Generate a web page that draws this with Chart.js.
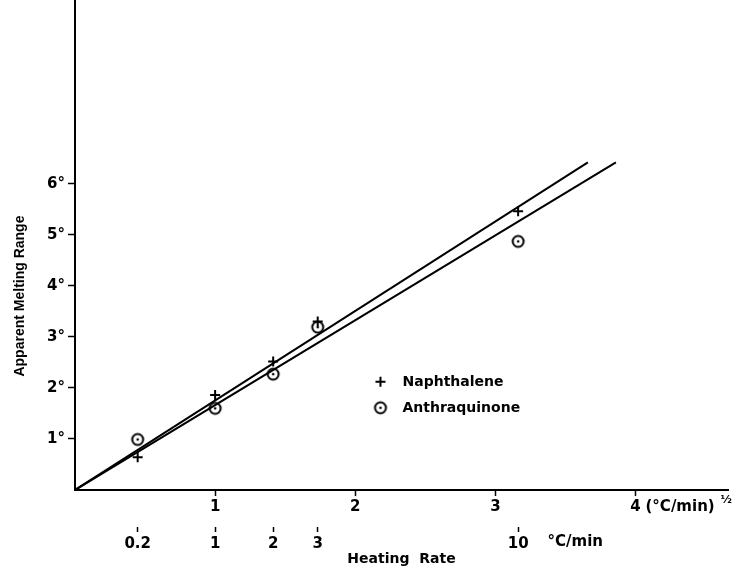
<!DOCTYPE html>
<html>
<head>
<meta charset="utf-8">
<script src="https://cdn.jsdelivr.net/npm/chart.js@4"></script>
<style>
  body { margin: 0; background: #fff; }
</style>
</head>
<body>
<canvas id="myChart" width="747" height="569"></canvas>
<script>
// heating rates in °C/min, plotted against their square root
const rates = [0.2, 1, 2, 3, 10];
const rateLabels = ['0.2', '1', '2', '3', '10'];
const naphthalene = [0.64, 1.86, 2.52, 3.30, 5.46];
const anthraquinone = [0.99, 1.60, 2.27, 3.19, 4.87];

// fitted lines, start and end points (x = sqrt rate, y = degrees)
const naphFitX = [0, 3.66];
const naphFitY = [0, 6.42];
const anthFitX = [0, 3.86];
const anthFitY = [0, 6.42];

const sqrtTicks = [1, 2, 3, 4];
const rangeTicks = [1, 2, 3, 4, 5, 6];

const FONT = '"DejaVu Sans", sans-serif';

// circle with a dot in the middle
const dotCircle = document.createElement('canvas');
dotCircle.width = 16;
dotCircle.height = 16;
const dc = dotCircle.getContext('2d');
dc.strokeStyle = '#000';
dc.lineWidth = 2;
dc.beginPath();
dc.arc(8, 8, 5.5, 0, Math.PI * 2);
dc.stroke();
dc.fillStyle = '#000';
dc.beginPath();
dc.arc(8, 8, 1.3, 0, Math.PI * 2);
dc.fill();

const toPoints = (xs, ys) => xs.map((x, i) => ({ x: x, y: ys[i] }));

// legend, axis title and unit texts
const extras = {
    id: 'extras',
    afterDraw(chart) {
        const ctx = chart.ctx;
        const x = chart.scales.x;
        const y = chart.scales.y;
        ctx.save();
        ctx.fillStyle = '#000';
        ctx.strokeStyle = '#000';

        // legend
        const lx = x.getPixelForValue(2.18);
        ctx.font = 'bold 14px ' + FONT;
        ctx.textBaseline = 'middle';
        ctx.textAlign = 'left';
        chart.data.datasets.slice(0, 2).forEach((ds, i) => {
            const ly = y.getPixelForValue(2.12) + i * 26;
            ctx.lineWidth = 2;
            Chart.helpers.drawPoint(ctx, {
                pointStyle: ds.pointStyle, radius: 5, rotation: 0, borderWidth: 2
            }, lx, ly);
            ctx.fillText(ds.label, lx + 22, ly + 1);
        });

        // y title
        ctx.save();
        ctx.translate(20, y.getPixelForValue(3.8));
        ctx.rotate(-Math.PI / 2);
        ctx.textAlign = 'center';
        ctx.font = 'bold 14px "Liberation Sans", sans-serif';
        ctx.fillText('Apparent Melting Range', 0, 0);
        ctx.restore();

        // units
        ctx.font = 'bold 15px ' + FONT;
        ctx.textAlign = 'left';
        const ux = x.getPixelForValue(4) + 10;
        ctx.fillText('(°C/min)', ux, 507);
        ctx.font = 'bold 11px ' + FONT;
        ctx.fillText('½', ux + 75, 500);
        ctx.font = 'bold 15px ' + FONT;
        ctx.textAlign = 'center';
        ctx.fillText('°C/min', x.getPixelForValue(3.57), 542);
        ctx.restore();
    }
};

const noPad = s => {
    s.paddingTop = 0;
    s.paddingBottom = 0;
    s.paddingLeft = 0;
    s.paddingRight = 0;
};

const ctx = document.getElementById('myChart').getContext('2d');
const chart = new Chart(ctx, {
    type: 'scatter',
    data: {
        datasets: [{
            label: 'Naphthalene',
            data: toPoints(rates.map(Math.sqrt), naphthalene),
            pointStyle: 'cross',
            pointRadius: 5,
            pointBorderWidth: 2,
            borderColor: '#000',
            backgroundColor: '#000'
        }, {
            label: 'Anthraquinone',
            data: toPoints(rates.map(Math.sqrt), anthraquinone),
            pointStyle: dotCircle,
            borderColor: '#000',
            backgroundColor: '#000'
        }, {
            label: 'Naphthalene fit',
            data: toPoints(naphFitX, naphFitY),
            showLine: true,
            pointRadius: 0,
            borderColor: '#000',
            borderWidth: 2
        }, {
            label: 'Anthraquinone fit',
            data: toPoints(anthFitX, anthFitY),
            showLine: true,
            pointRadius: 0,
            borderColor: '#000',
            borderWidth: 2
        }]
    },
    options: {
        responsive: false,
        animation: false,
        devicePixelRatio: 1,
        layout: { autoPadding: false, padding: { top: 0, right: 19, left: 0, bottom: 0 } },
        plugins: {
            legend: { display: false },
            tooltip: { enabled: false }
        },
        scales: {
            x: {
                type: 'linear',
                position: 'bottom',
                min: 0,
                max: 4.66,
                weight: 0,
                afterBuildTicks: s => { s.ticks = sqrtTicks.map(v => ({ value: v })); },
                afterFit: s => { s.height = 30; noPad(s); },
                border: { color: '#000', width: 2 },
                grid: { drawOnChartArea: false, color: '#000', tickLength: 6, tickWidth: 1.5 },
                ticks: {
                    color: '#000',
                    padding: 2,
                    maxRotation: 0,
                    autoSkip: false,
                    font: { family: FONT, size: 15, weight: 'bold' },
                    callback: v => String(v)
                }
            },
            x2: {
                type: 'linear',
                position: 'bottom',
                min: 0,
                max: 4.66,
                weight: 1,
                afterBuildTicks: s => { s.ticks = rates.map(r => ({ value: Math.sqrt(r) })); },
                afterFit: s => { s.height = 49; noPad(s); },
                border: { display: false },
                grid: {
                    drawOnChartArea: false,
                    color: '#000',
                    tickLength: 12,
                    tickWidth: 1.5,
                    tickBorderDash: [0, 7, 5]
                },
                ticks: {
                    color: '#000',
                    padding: 3,
                    maxRotation: 0,
                    autoSkip: false,
                    font: { family: FONT, size: 15, weight: 'bold' },
                    callback: (v, i) => rateLabels[i]
                },
                title: {
                    display: true,
                    text: 'Heating  Rate',
                    color: '#000',
                    padding: { top: 0, bottom: 1 },
                    font: { family: FONT, size: 14, weight: 'bold' }
                }
            },
            y: {
                type: 'linear',
                min: 0,
                max: 9.6,
                afterBuildTicks: s => { s.ticks = rangeTicks.map(v => ({ value: v })); },
                afterFit: s => { s.width = 75; noPad(s); },
                border: { color: '#000', width: 2 },
                grid: { drawOnChartArea: false, color: '#000', tickLength: 7, tickWidth: 1.5 },
                ticks: {
                    color: '#000',
                    padding: 3,
                    autoSkip: false,
                    font: { family: FONT, size: 15, weight: 'bold' },
                    callback: v => v + '°'
                }
            }
        }
    },
    plugins: [extras]
});
</script>
</body>
</html>
